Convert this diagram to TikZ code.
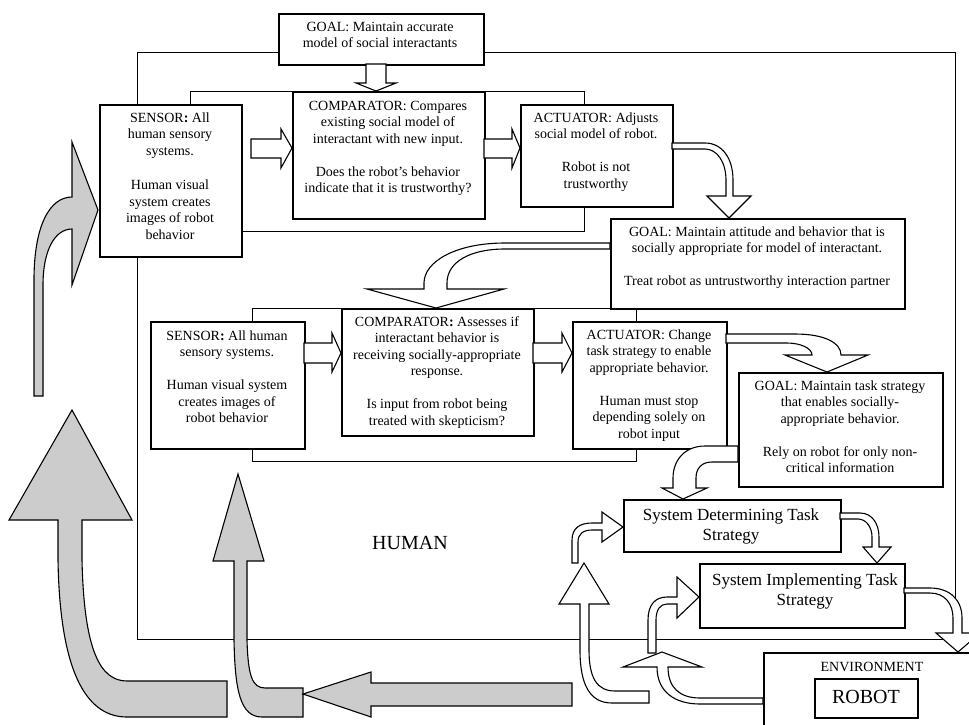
\documentclass[tikz,border=0pt]{standalone}
\usepackage{fontspec}
\setmainfont{Liberation Serif}
\begin{document}
\begin{tikzpicture}[x=1pt,y=-1pt,
  box/.style={draw, line width=1.5pt, fill=white, inner sep=0pt, anchor=north west},
  frame/.style={draw, line width=1.2pt, inner sep=0pt, anchor=north west},
  txt/.style={inner sep=0pt, anchor=north, align=center, font=\fontsize{14}{16.5}\selectfont},
  bigtxt/.style={inner sep=0pt, anchor=north, align=center, font=\fontsize{17}{20}\selectfont},
  blockarrow/.style={draw, line width=1.1pt, fill=white, line join=miter},
  greyarrow/.style={blockarrow, fill=black!20}]
\useasboundingbox (0,0) rectangle (969,724);

% frames
\node[frame, minimum width=818pt, minimum height=587pt] (human) at (137,52) {};
\node[frame, minimum width=394pt, minimum height=140pt] (frameA) at (190,91) {};
\node[frame, minimum width=384pt, minimum height=153pt] (frameB) at (252,308) {};

% boxes
\node[box, minimum width=205pt, minimum height=51pt] (goalA) at (278,13) {};
\node[box, minimum width=142pt, minimum height=152pt] (sensA) at (99,104) {};
\node[box, minimum width=192pt, minimum height=127pt] (compA) at (292,91) {};
\node[box, minimum width=152pt, minimum height=102pt] (actA) at (520,104) {};
\node[box, minimum width=294pt, minimum height=90pt] (goalB) at (610,218) {};
\node[box, minimum width=154pt, minimum height=127pt] (sensB) at (150,321) {};
\node[box, minimum width=192pt, minimum height=127pt] (compB) at (341,308) {};
\node[box, minimum width=154pt, minimum height=127pt] (actB) at (572,321) {};
\node[box, minimum width=204pt, minimum height=114pt] (goalC) at (738,372) {};
\node[box, minimum width=217pt, minimum height=52pt] (sysdet) at (623,499) {};
\node[box, minimum width=205pt, minimum height=64pt] (sysimp) at (699,563) {};
\node[box, minimum width=260pt, minimum height=100pt] (env) at (763,652) {};
\node[box, minimum width=103pt, minimum height=39pt] (robot) at (814,678) {};

% texts
\node[txt] (tgoalA) at (380,19.5) {\strut GOAL: Maintain accurate\\model of social interactants};
\node[txt] (tsensA) at (170,110.5) {\strut SENSOR{\bfseries:} All\\human sensory\\systems.\\[18pt]Human visual\\system creates\\images of robot\\behavior};
\node[txt] (tcompA) at (388,98.5) {\strut COMPARATOR: Compares\\existing social model of\\interactant with new input.\\[16.5pt]Does the robot’s behavior\\indicate that it is trustworthy?};
\node[txt] (tactA) at (596,110.5) {\strut ACTUATOR: Adjusts\\social model of robot.\\[16.5pt]Robot is not\\trustworthy};
\node[txt] (tgoalB) at (757,224.5) {\strut GOAL: Maintain attitude and behavior that is\\socially appropriate for model of interactant.\\[16.5pt]Treat robot as untrustworthy interaction partner};
\node[txt] (tsensB) at (227,328.5) {\strut SENSOR{\bfseries:} All human\\sensory systems.\\[16.5pt]Human visual system\\creates images of\\robot behavior};
\node[txt] (tcompB) at (437,314.5) {\strut COMPARATOR{\bfseries:} Assesses if\\interactant behavior is\\receiving socially-appropriate\\response.\\[16.5pt]Is input from robot being\\treated with skepticism?};
\node[txt] (tactB) at (649,327.5) {\strut ACTUATOR: Change\\task strategy to enable\\appropriate behavior.\\[16.5pt]Human must stop\\depending solely on\\robot input};
\node[txt] (tgoalC) at (840,378.5) {\strut GOAL: Maintain task strategy\\that enables socially-\\appropriate behavior.\\[16.5pt]Rely on robot for only non-\\critical information};
\node[bigtxt] (tsysdet) at (731,506) {\strut System Determining Task\\Strategy};
\node[bigtxt] (tsysimp) at (805,571) {\strut System Implementing Task\\Strategy};
\node[font=\fontsize{20}{24}\selectfont, inner sep=0pt] (thuman) at (410,543) {HUMAN};
\node[font=\fontsize{14}{16}\selectfont, inner sep=0pt] (tenv) at (872,667) {ENVIRONMENT};
\node[font=\fontsize{20}{24}\selectfont, inner sep=0pt] (trobot) at (866,697) {ROBOT};

% straight block arrows
\draw[blockarrow] (366,64) -- (366,83) -- (356,83) -- (376,91) -- (396,83) -- (386,83) -- (386,64) -- cycle;
\draw[blockarrow] (251,139) -- (281,139) -- (281,129) -- (292,148) -- (281,168) -- (281,158) -- (251,158) -- cycle;
\draw[blockarrow] (484,139) -- (512,139) -- (512,129) -- (520,148) -- (512,168) -- (512,158) -- (484,158) -- cycle;
\draw[blockarrow] (304,343) -- (332,343) -- (332,333) -- (341,353) -- (332,372) -- (332,363) -- (304,363) -- cycle;
\draw[blockarrow] (533,343) -- (562,343) -- (562,333) -- (572,353) -- (562,372) -- (562,363) -- (533,363) -- cycle;

% curved block arrows (white)
\draw[blockarrow] (672,143) -- (705,143) .. controls (722,143) and (733,158) .. (733,180) -- (733,196) -- (751,196) -- (729,218) -- (707,196) -- (726,196) -- (726,180) .. controls (726,162) and (717,149) .. (705,149) -- (672,149) -- cycle;
\draw[blockarrow] (610,243) -- (505,243) .. controls (455,243) and (424,262) .. (424,283) -- (424,289) -- (367,289) -- (436,308) -- (504,289) -- (447,289) -- (447,283) .. controls (447,262) and (470,249) .. (505,249) -- (610,249) -- cycle;
\draw[blockarrow] (726,334) -- (795,334) .. controls (825,334) and (841,343) .. (841,355) -- (868,355) -- (827,372) -- (785,355) -- (812,355) .. controls (812,348) and (800,343) .. (787,343) -- (726,343) -- cycle;
\draw[blockarrow] (738,446) -- (705,446) .. controls (685,446) and (673,460) .. (673,478) -- (673,488) -- (662,488) -- (683,499) -- (707,488) -- (696,488) -- (696,478) .. controls (696,468) and (702,462) .. (712,462) -- (738,462) -- cycle;
\draw[blockarrow] (840,513) -- (860,513) .. controls (873,513) and (879,525) .. (879,537) -- (879,547) -- (891,547) -- (877,563) -- (863,547) -- (872,547) -- (872,537) .. controls (872,527) and (866,519) .. (858,519) -- (840,519) -- cycle;
\draw[blockarrow] (904,588) -- (930,588) .. controls (950,588) and (962,600) .. (962,618) -- (962,633) -- (980,633) -- (958,652) -- (936,633) -- (953,633) -- (953,618) .. controls (953,604) and (945,593) .. (930,593) -- (904,593) -- cycle;
\draw[blockarrow] (572,563) -- (572,540) .. controls (572,528) and (580,523) .. (592,523) -- (602,523) -- (602,512) -- (623,527) -- (602,542) -- (602,530) -- (592,530) .. controls (583,530) and (578,534) .. (578,542) -- (578,563) -- cycle;
\draw[blockarrow] (584,563) -- (609,604) -- (589,604) -- (589,650) .. controls (589,678) and (597,691) .. (615,691) -- (649,691) -- (649,703) -- (612,703) .. controls (590,703) and (580,685) .. (580,650) -- (580,604) -- (559,604) -- cycle;
\draw[blockarrow] (648,653) -- (648,620) .. controls (648,605) and (655,597) .. (667,597) -- (677,597) -- (677,577) -- (699,597) -- (677,618) -- (677,604) -- (667,604) .. controls (660,604) and (656,610) .. (656,620) -- (656,653) -- cycle;
\draw[blockarrow] (763,698) -- (700,698) .. controls (680,698) and (668,688) .. (668,667) -- (702,667) -- (662,652) -- (623,667) -- (657,667) .. controls (657,692) and (675,704) .. (700,704) -- (763,704) -- cycle;

% grey arrows
\draw[greyarrow] (34,396) -- (34,280) .. controls (34,225) and (50,197) .. (72,197) -- (72,142) -- (98,210) -- (72,285) -- (72,229) .. controls (55,229) and (43,250) .. (43,285) -- (43,396) -- cycle;
\draw[greyarrow] (72,410) -- (132,520) -- (82,520) -- (82,560) .. controls (84,650) and (100,681) .. (127,681) -- (227,681) -- (227,717) -- (127,717) .. controls (90,717) and (60,680) .. (58,560) -- (58,520) -- (9,520) -- cycle;
\draw[greyarrow] (238,474) -- (264,561) -- (247,561) -- (247,640) .. controls (248,675) and (252,688) .. (265,688) -- (303,688) -- (303,717) -- (262,717) .. controls (240,717) and (235,690) .. (234,640) -- (234,561) -- (213,561) -- cycle;
\draw[greyarrow] (303,694) -- (371,672) -- (371,683) -- (572,683) -- (572,706) -- (371,706) -- (371,717) -- cycle;
\end{tikzpicture}
\end{document}
